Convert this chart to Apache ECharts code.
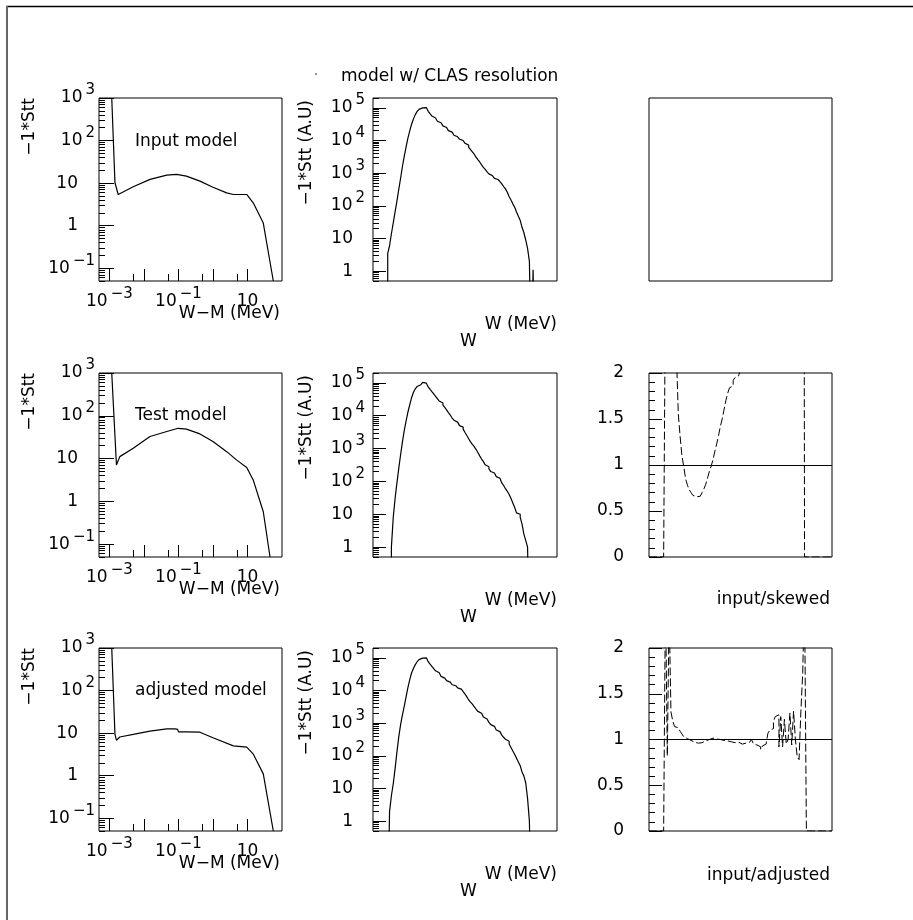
<!DOCTYPE html>
<html>
<head>
<meta charset="utf-8">
<title>model w/ CLAS resolution</title>
<script src="https://cdn.jsdelivr.net/npm/echarts@6/dist/echarts.min.js"></script>
<style>
  html, body { margin: 0; padding: 0; background: #fff; }
  #chart { width: 913px; height: 920px; }
</style>
</head>
<body>
<div id="chart"></div>
<script>
// model curves, -1*Stt vs W-M (MeV)
const inputModelX = [1.17e-3, 1.45e-3, 1.8e-3, 4.9e-3, 0.015, 0.046, 0.089, 0.17, 0.42, 1.0, 2.5, 3.9, 9.5, 14.8, 28.7, 56];
const inputModelY = [1000, 10.2, 5.4, 8.2, 12.2, 15.4, 16, 14.6, 11.1, 8.0, 5.9, 5.4, 5.4, 3.4, 1.15, 0.05];

const testModelX = [1.17e-3, 1.6e-3, 2.0e-3, 4.9e-3, 0.015, 0.046, 0.099, 0.17, 0.42, 1.0, 2.5, 4.9, 9.5, 14.8, 28.7, 45];
const testModelY = [1000, 7.1, 11.1, 17.4, 32.7, 42.8, 51, 48.6, 37.7, 25, 14.5, 9.2, 6.2, 3.1, 0.57, 0.05];

const adjustedModelX = [1.17e-3, 1.45e-3, 1.6e-3, 2.0e-3, 4.9e-3, 0.015, 0.046, 0.08, 0.095, 0.1, 0.17, 0.42, 1.0, 3.9, 9.5, 14.8, 28.7, 56];
const adjustedModelY = [1000, 9.3, 6.8, 8.1, 9.3, 11.1, 12.6, 12.6, 12.2, 10.7, 10.7, 10.5, 7.8, 5.0, 4.7, 3.2, 1.1, 0.05];

// smeared spectra, 100 bins in W (A.U)
const smearedInput = [
  0, 0, 0, 0, 0, 0, 0, 0,
  3.5, 6, 14, 30, 65, 140, 320, 700, 1600, 3300, 6500, 12000,
  20000, 32000, 46000, 62000, 78000, 90000, 100000, 106000, 102000, 90000,
  78000, 66000, 56000, 49000, 43000, 39000, 35000, 31000, 28000, 25000,
  22500, 20000, 18000, 16000, 14500, 13000, 12000, 11000, 10000, 9200,
  8200, 7200, 6200, 5300, 4500, 3800, 3100, 2600, 2200, 1800,
  1500, 1300, 1100, 950, 830, 740, 690, 640, 590, 550,
  470, 390, 330, 260, 190, 150, 115, 90, 65, 48,
  36, 22, 15, 9, 5, 2.0, 0, 1.1,
  0, 0, 0, 0, 0, 0, 0, 0, 0, 0, 0, 0
];
const smearedTest = [
  0, 0, 0, 0, 0, 0, 0, 0, 0, 0,
  1.0, 8, 30, 90, 250, 650, 1600, 3600, 7000, 13000,
  22000, 36000, 52000, 66000, 78000, 88000, 98000, 104000, 98000, 86000,
  75000, 64000, 54000, 46000, 39000, 33000, 28000, 24500, 21000, 18000,
  15000, 12500, 10500, 8500, 7300, 6400, 5700, 5000, 4500, 3900,
  3100, 2500, 2000, 1600, 1350, 1150, 950, 760, 600, 480,
  400, 320, 280, 240, 200, 180, 160, 140, 125, 110,
  90, 75, 60, 50, 40, 30, 22, 16, 11, 10,
  8, 5, 2.5, 1.6, 1.0,
  0, 0, 0, 0, 0, 0, 0, 0, 0, 0, 0, 0, 0, 0, 0
];
const smearedAdjusted = [
  0, 0, 0, 0, 0, 0, 0, 0, 0,
  2.0, 6, 14, 40, 130, 380, 900, 1800, 3300, 6500, 12500,
  22000, 35000, 48000, 62000, 76000, 88000, 98000, 105000, 100000, 88000,
  76000, 64000, 55000, 47000, 40000, 35000, 31000, 27000, 24000, 22000,
  20000, 18000, 16500, 15000, 14000, 13000, 12000, 11000, 10000, 9200,
  7800, 6400, 5200, 4400, 3800, 3200, 2700, 2300, 2000, 1750,
  1550, 1350, 1200, 1050, 900, 800, 700, 620, 550, 490,
  430, 370, 320, 280, 230, 180, 140, 110, 85, 65,
  50, 32, 24, 15, 5, 1.0,
  0, 0, 0, 0, 0, 0, 0, 0, 0, 0, 0, 0, 0, 0
];

// ratios per bin
const ratioSkewed = [
  0, 0, 0, 0, 0, 0, 0, 0, 0,
  3.0, 5.0, 4.2, 3.6, 3.0, 2.6, 2.2, 1.56, 1.31, 1.1, 0.98,
  0.85, 0.78, 0.73, 0.7, 0.67, 0.655, 0.65, 0.66, 0.68, 0.7,
  0.74, 0.79, 0.86, 0.93, 0.99, 1.06, 1.15, 1.23, 1.32, 1.42,
  1.5, 1.6, 1.7, 1.78, 1.84, 1.86, 1.92, 1.95, 1.97, 1.98,
  2.05, 2.1, 2.2, 2.3, 2.4, 2.5, 2.6, 2.8, 3.0, 3.1,
  3.3, 3.5, 3.7, 3.9, 4.1, 4.3, 4.5, 4.8, 5.0, 5.3,
  5.6, 5.9, 6.2, 6.5, 6.9, 7.2, 7.6, 8.0, 8.5, 9.0,
  9.5, 10, 11, 12, 13,
  0, 0, 0, 0, 0, 0, 0, 0, 0, 0, 0, 0, 0, 0, 0
];
const ratioAdjusted = [
  0, 0, 0, 0, 0, 0, 0, 0, 0,
  2.6, 0.82, 2.4, 1.3, 1.2, 1.14, 1.13, 1.12, 1.09, 1.06, 1.03,
  1.01, 1.0, 0.99, 0.98, 0.97, 0.965, 0.96, 0.96, 0.965, 0.975,
  0.985, 0.99, 1.0, 1.01, 1.015, 1.01, 1.005, 1.0, 1.0, 0.995,
  0.99, 0.99, 0.985, 0.98, 0.975, 0.97, 0.965, 0.96, 0.97, 0.955,
  0.95, 0.94, 0.96, 0.945, 0.97, 0.99, 1.0, 0.955, 0.94, 0.93,
  0.92, 0.89, 0.93, 0.95, 0.96, 1.07, 1.1, 1.12, 1.2, 1.25,
  1.27, 0.92, 1.25, 0.92, 1.22, 0.95, 1.0, 1.29, 0.94, 1.31,
  1.0, 0.81, 0.78, 1.31, 1.73, 2.6,
  0, 0, 0, 0, 0, 0, 0, 0, 0, 0, 0, 0, 0, 0
];

const modelYTicks = [0.1, 1, 10, 100, 1000];
const modelXTicks = [1e-3, 1e-2, 1e-1, 1, 10];
const modelXMinorTicks = [5e-3, 5e-2, 0.5, 5];
const modelXLabels = [1e-3, 1e-1, 10];
const smearYTicks = [1, 10, 100, 1e3, 1e4, 1e5];

const FONT = 'DejaVu Sans';
const FLOOR = 1e-3;

const colLeft = [99, 373, 649];
const colWidth = [183, 184, 183];
const rowTop = [98, 373, 648];
const rowHeight = [183, 184, 183];

function minorLogTicks(lo, hi) {
  const out = [];
  for (let e = -3; e <= 6; e++) {
    for (let m = 2; m <= 9; m++) {
      const v = m * Math.pow(10, e);
      if (v >= lo * 0.999 && v <= hi * 1.001) out.push(v);
    }
  }
  return out;
}

function powerLabel(value) {
  const e = Math.round(Math.log10(value));
  if (e === 0) return '{p|1}';
  if (e === 1) return '{p|10}';
  return '{b|10}{s|' + (e < 0 ? '−' : '') + Math.abs(e) + '}';
}

function richSet(padRight) {
  return {
    b: { fontSize: 17, fontFamily: FONT, lineHeight: 30, color: '#000' },
    s: { fontSize: 15, fontFamily: FONT, lineHeight: 14, verticalAlign: 'top', color: '#000', padding: [0, 0, 0, 3] },
    p: { fontSize: 17, fontFamily: FONT, lineHeight: 30, color: '#000', padding: [0, padRight, 0, 0] }
  };
}

const hidden = {
  axisLine: { show: false },
  axisTick: { show: false },
  axisLabel: { show: false },
  splitLine: { show: false }
};
const tickStyle = { color: '#000', width: 1 };
const curveStyle = { color: '#000', width: 1.2 };

const grids = [];
const xAxes = [];
const yAxes = [];
const series = [];

function addGrid(row, col) {
  grids.push({
    left: colLeft[col], top: rowTop[row], width: colWidth[col], height: rowHeight[row],
    show: true, borderColor: '#000', borderWidth: 1, backgroundColor: 'transparent'
  });
  return grids.length - 1;
}

function addModelPanel(row, xs, ys) {
  const g = addGrid(row, 0);
  const xi = xAxes.length;
  xAxes.push({
    type: 'log', gridIndex: g, min: 5e-4, max: 100, position: 'bottom',
    axisLine: { show: false }, splitLine: { show: false },
    axisTick: { inside: true, length: 12, lineStyle: tickStyle, customValues: modelXTicks },
    axisLabel: { margin: 6, customValues: modelXLabels, formatter: powerLabel, rich: richSet(0) }
  });
  xAxes.push({
    type: 'log', gridIndex: g, min: 5e-4, max: 100, position: 'bottom',
    axisLine: { show: false }, splitLine: { show: false }, axisLabel: { show: false },
    axisTick: { inside: true, length: 7, lineStyle: tickStyle, customValues: modelXMinorTicks }
  });
  const yi = yAxes.length;
  yAxes.push({
    type: 'log', gridIndex: g, min: 0.05, max: 1000, position: 'left',
    axisLine: { show: false }, splitLine: { show: false },
    axisTick: { inside: true, length: 15, lineStyle: tickStyle, customValues: modelYTicks },
    axisLabel: { margin: 4, customValues: modelYTicks, formatter: powerLabel, rich: richSet(17) }
  });
  yAxes.push({
    type: 'log', gridIndex: g, min: 0.05, max: 1000, position: 'left',
    axisLine: { show: false }, splitLine: { show: false }, axisLabel: { show: false },
    axisTick: { inside: true, length: 6, lineStyle: tickStyle, customValues: minorLogTicks(0.05, 1000) }
  });
  series.push({
    type: 'line', xAxisIndex: xi, yAxisIndex: yi,
    data: xs.map((x, i) => [x, ys[i]]),
    showSymbol: false, clip: true,
    lineStyle: curveStyle,
    markLine: {
      silent: true, symbol: 'none', label: { show: false },
      lineStyle: { color: '#000', width: 1, type: 'solid' },
      data: [{ xAxis: 0.001 }]
    }
  });
}

function addSmearPanel(row, values) {
  const g = addGrid(row, 1);
  const xi = xAxes.length;
  xAxes.push(Object.assign({ type: 'value', gridIndex: g, min: 0, max: 100 }, hidden));
  const yi = yAxes.length;
  yAxes.push({
    type: 'log', gridIndex: g, min: 0.5, max: 2e5, position: 'left',
    axisLine: { show: false }, splitLine: { show: false },
    axisTick: { inside: true, length: 13, lineStyle: tickStyle, customValues: smearYTicks },
    axisLabel: { margin: 8, customValues: smearYTicks, formatter: powerLabel, rich: richSet(12) }
  });
  yAxes.push({
    type: 'log', gridIndex: g, min: 0.5, max: 2e5, position: 'left',
    axisLine: { show: false }, splitLine: { show: false }, axisLabel: { show: false },
    axisTick: { inside: true, length: 6, lineStyle: tickStyle, customValues: minorLogTicks(0.5, 2e5) }
  });
  const pts = values.map((v, i) => [i, v > 0 ? v : FLOOR]);
  pts.push([values.length, FLOOR]);
  series.push({
    type: 'line', xAxisIndex: xi, yAxisIndex: yi, step: 'end',
    data: pts, showSymbol: false, clip: true,
    lineStyle: curveStyle
  });
}

function addRatioPanel(row, values) {
  const g = addGrid(row, 2);
  const xi = xAxes.length;
  xAxes.push(Object.assign({ type: 'value', gridIndex: g, min: 0, max: 100 }, hidden));
  const yi = yAxes.length;
  yAxes.push({
    type: 'value', gridIndex: g, min: 0, max: 2, interval: 0.5, position: 'left',
    axisLine: { show: false }, splitLine: { show: false },
    axisTick: { inside: true, length: 13, lineStyle: tickStyle },
    minorTick: { show: true, splitNumber: 5, length: 6, lineStyle: tickStyle },
    axisLabel: { margin: 25, fontSize: 17, fontFamily: FONT, color: '#000' }
  });
  const pts = values.map((v, i) => [i, v]);
  pts.push([values.length, 0]);
  series.push({
    type: 'line', xAxisIndex: xi, yAxisIndex: yi, step: 'end',
    data: pts, showSymbol: false, clip: true,
    lineStyle: { color: '#000', width: 1, type: [8, 3] },
    markLine: {
      silent: true, symbol: 'none', label: { show: false },
      lineStyle: { color: '#000', width: 1, type: 'solid' },
      data: [{ yAxis: 1 }]
    }
  });
}

addModelPanel(0, inputModelX, inputModelY);
addSmearPanel(0, smearedInput);
// empty frame, top right
const emptyGrid = addGrid(0, 2);
xAxes.push(Object.assign({ type: 'value', gridIndex: emptyGrid, min: 0, max: 1 }, hidden));
yAxes.push(Object.assign({ type: 'value', gridIndex: emptyGrid, min: 0, max: 1 }, hidden));

addModelPanel(1, testModelX, testModelY);
addSmearPanel(1, smearedTest);
addRatioPanel(1, ratioSkewed);

addModelPanel(2, adjustedModelX, adjustedModelY);
addSmearPanel(2, smearedAdjusted);
addRatioPanel(2, ratioAdjusted);

// texts
function txt(text, x, y, align) {
  return {
    type: 'text', x, y,
    style: {
      text, fill: '#000', font: '17px "' + FONT + '"',
      align: align || 'left', verticalAlign: 'middle',
      textAlign: align || 'left', textVerticalAlign: 'middle'
    }
  };
}
function vtxt(text, x, y) {
  const t = txt(text, x, y, 'right');
  t.rotation = Math.PI / 2;
  return t;
}

const graphics = [
  { type: 'line', shape: { x1: 6, y1: 6.5, x2: 913, y2: 6.5 }, style: { stroke: '#000', lineWidth: 1.5 } },
  { type: 'line', shape: { x1: 7, y1: 6, x2: 7, y2: 920 }, style: { stroke: '#666', lineWidth: 2 } },
  txt('model w/ CLAS resolution', 341, 77),
  { type: 'circle', shape: { cx: 316, cy: 74, r: 0.8 }, style: { fill: '#000' } },
  txt('Input model', 135, 142),
  txt('Test model', 135, 416),
  txt('adjusted model', 135, 691),
  txt('input/skewed', 830, 600, 'right'),
  txt('input/adjusted', 830, 876, 'right')
];
for (let r = 0; r < 3; r++) {
  const top = rowTop[r];
  const bottom = rowTop[r] + rowHeight[r];
  graphics.push(vtxt('−1*Stt', 29.5, top));
  graphics.push(vtxt('−1*Stt (A.U)', 307, top + 2));
  graphics.push(txt('W−M (MeV)', 280, bottom + 33, 'right'));
  graphics.push(txt('W (MeV)', 557, bottom + 44, 'right'));
  graphics.push(txt('W', 460, bottom + 61));
}

const chart = echarts.init(document.getElementById('chart'), null, { renderer: 'canvas' });
chart.setOption({
  animation: false,
  backgroundColor: '#fff',
  textStyle: { fontFamily: FONT, color: '#000' },
  grid: grids,
  xAxis: xAxes,
  yAxis: yAxes,
  series: series,
  graphic: graphics
});
</script>
</body>
</html>
